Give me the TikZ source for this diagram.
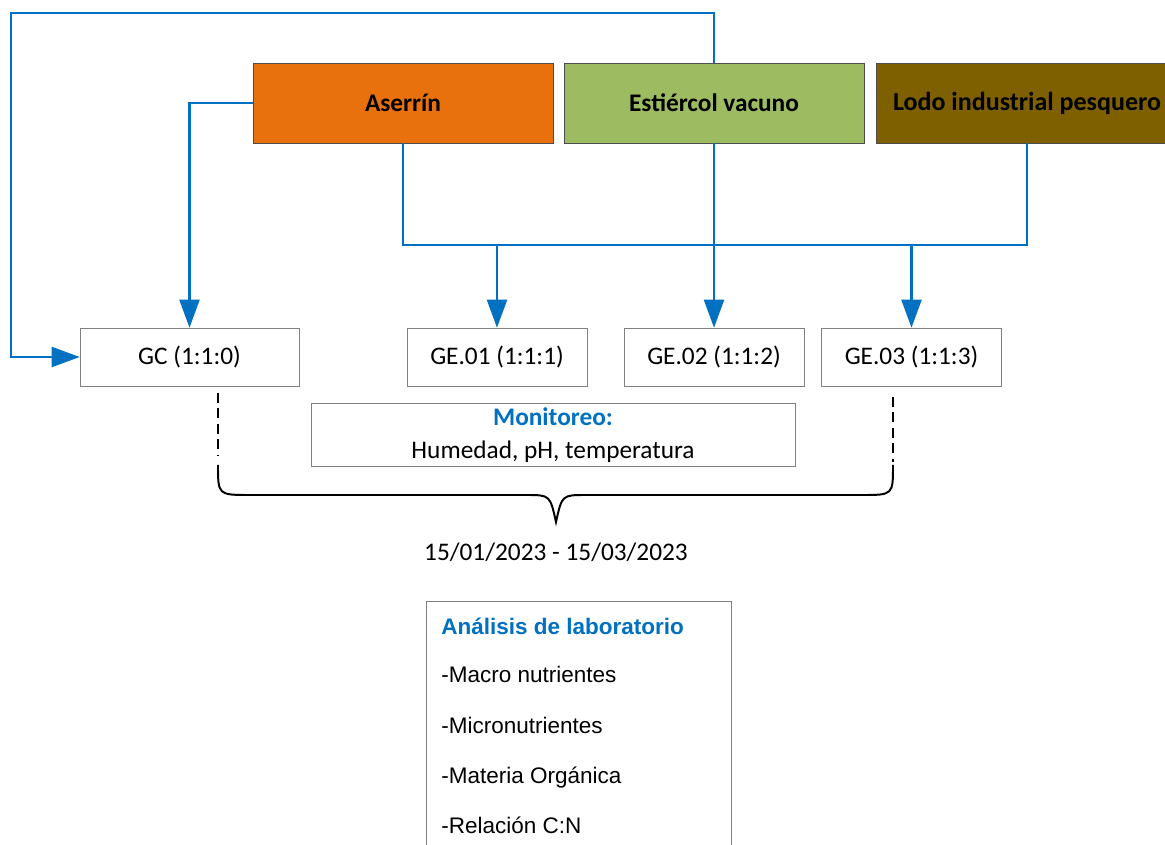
\documentclass[tikz,border=0pt]{standalone}
\usepackage{fontspec}
\setmainfont{Carlito}
\newfontfamily\arialfont{Liberation Sans}
\usetikzlibrary{arrows.meta}
\definecolor{flowblue}{RGB}{0,112,192}
\definecolor{sawdust}{RGB}{232,113,14}
\definecolor{manure}{RGB}{157,187,97}
\definecolor{sludge}{RGB}{127,96,0}

\begin{document}
\begin{tikzpicture}[x=0.025cm,y=-0.025cm,
  font=\fontsize{18}{22}\selectfont,
  source/.style={draw=black!70,minimum width=7.5cm,minimum height=2cm,font=\fontsize{18}{22}\selectfont\bfseries},
  sample/.style={draw=black!50,minimum width=4.5cm,minimum height=1.45cm},
  bus/.style={draw=flowblue,line width=1.5pt},
  flow/.style={bus,-{Triangle[length=0.7cm,width=0.5cm]}},
  guide/.style={line width=1.4pt,dash pattern=on 7pt off 4pt},
  labtext/.style={anchor=base west,inner xsep=0pt,font=\arialfont\fontsize{16}{19}\selectfont}]
\clip (0,0) rectangle (1165,845);
% raw materials
\node[source,fill=sawdust] (aserrin) at (403,103) {Aserrín};
\node[source,fill=manure] (estiercol) at (714,103) {Estiércol vacuno};
\node[source,fill=sludge,minimum width=7.55cm,font=\fontsize{18.5}{22}\selectfont\bfseries] (lodo) at (1027,103) {Lodo industrial pesquero};
% piles
\node[sample,minimum width=5.475cm] (gc) at (189.5,357) {GC (1:1:0)};
\foreach \i/\x in {1/497,2/714,3/911.5}
  \node[sample] (ge\i) at (\x,357) {GE.0\i\ (1:1:\i)};
% connectors
\coordinate (loop) at (11,13);
\coordinate (join) at (700,245);
\draw[flow] (estiercol.north) |- (loop) |- (gc.west);
\draw[flow] (aserrin.west) -| (gc.north);
\draw[bus] (aserrin.south) |- (join) -| (lodo.south);
\draw[flow] (ge1.north |- join) -- (ge1.north);
\draw[flow] (estiercol.south) -- (ge2.north);
\draw[flow] (ge3.north |- join) -- (ge3.north);
% monitoring period
\node[draw=black!50,minimum width=12.1cm,minimum height=1.45cm,align=center] (monitor) at (553,435)
  {\textcolor{flowblue}{\bfseries Monitoreo:}\\[1pt]Humedad, pH, temperatura};
\draw[guide] (218,393) -- (218,455);
\draw[guide] (893,397) -- (893,462);
\draw[line width=1.4pt] (218,465) .. controls (218,495) .. (250,495) -- (526,495)
  .. controls (550,495) .. (556,522) .. controls (562,495) .. (586,495) -- (862,495)
  .. controls (893,495) .. (893,465);
\node (date) at (556,552) {15/01/2023 - 15/03/2023};
% lab analysis
\node[draw=black!50,anchor=north west,minimum width=7.625cm,minimum height=7cm] (lab) at (426,601) {};
\node[labtext,text=flowblue,font=\arialfont\fontsize{16}{19}\selectfont\bfseries] (labtitle) at (441,634) {Análisis de laboratorio};
\foreach \t [count=\i] in {Macro nutrientes,Micronutrientes,Materia Orgánica,Relación C:N}
  \node[labtext] (item\i) at (441,633+50*\i) {-\t};
\end{tikzpicture}
\end{document}
